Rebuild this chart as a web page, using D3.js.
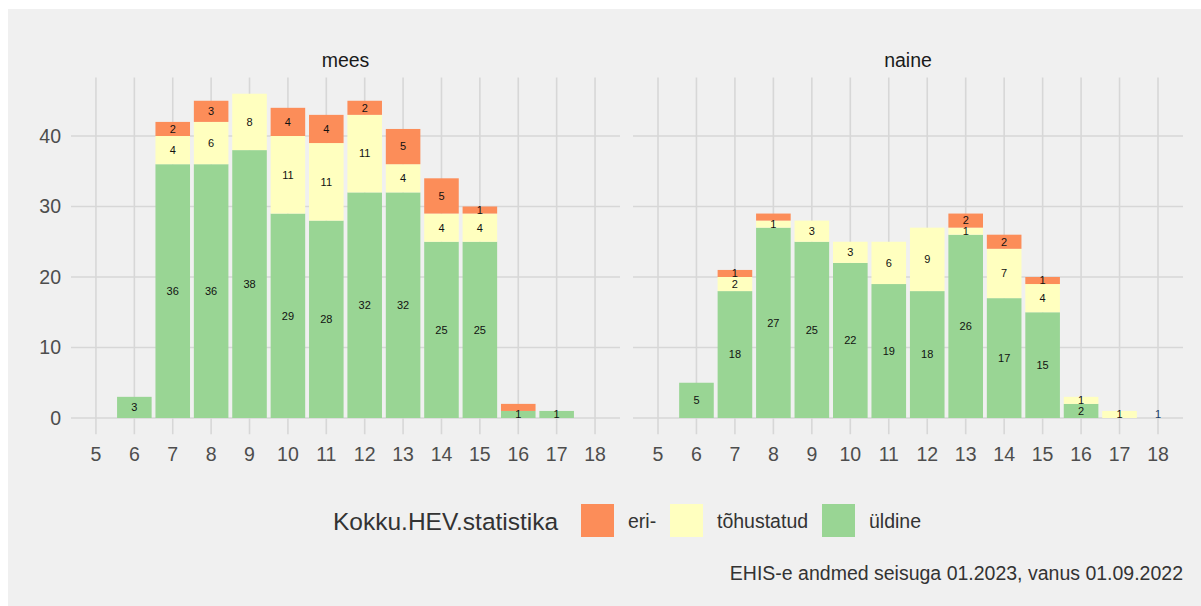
<!DOCTYPE html>
<html>
<head>
<meta charset="utf-8">
<script src="https://cdn.jsdelivr.net/npm/d3@7"></script>
<style>
  body { margin: 0; background: #fff; }
  svg { display: block; font-family: 'Liberation Sans', Arial, sans-serif; }
</style>
</head>
<body>
<svg id="chart" width="1201" height="606"></svg>
<script>
// ages on the x axis
const xTicks = [5, 6, 7, 8, 9, 10, 11, 12, 13, 14, 15, 16, 17, 18];
const yTicks = [0, 10, 20, 30, 40];
const barAges = [6, 7, 8, 9, 10, 11, 12, 13, 14, 15, 16, 17, 18];
const panels = ['mees', 'naine'];
const categories = ['üldine', 'tõhustatud', 'eri-'];
const legendOrder = ['eri-', 'tõhustatud', 'üldine'];

// values per age (6..18), one array per panel and category
const meesUldine = [3, 36, 36, 38, 29, 28, 32, 32, 25, 25, 1, 1, 0];
const meesTohustatud = [0, 4, 6, 8, 11, 11, 11, 4, 4, 4, 0, 0, 0];
const meesEri = [0, 2, 3, 0, 4, 4, 2, 5, 5, 1, 1, 0, 0];
const naineUldine = [5, 18, 27, 25, 22, 19, 18, 26, 17, 15, 2, 0, 0];
const naineTohustatud = [0, 2, 1, 3, 3, 6, 9, 1, 7, 4, 1, 1, 0];
const naineEri = [0, 1, 1, 0, 0, 0, 0, 2, 2, 1, 0, 0, 0];
// unclassified entry, drawn without a fill
const naineNA = [0, 0, 0, 0, 0, 0, 0, 0, 0, 0, 0, 0, 1];
const meesNA = [0, 0, 0, 0, 0, 0, 0, 0, 0, 0, 0, 0, 0];

const colors = {
  'eri-': '#FC8D59',
  'tõhustatud': '#FFFFBF',
  'üldine': '#99D594',
  'NA': 'none',
};

const series = {
  mees: { 'NA': meesNA, 'üldine': meesUldine, 'tõhustatud': meesTohustatud, 'eri-': meesEri },
  naine: { 'NA': naineNA, 'üldine': naineUldine, 'tõhustatud': naineTohustatud, 'eri-': naineEri },
};

const svg = d3.select('#chart');
const panelBox = {
  mees: { left: 71, right: 620 },
  naine: { left: 633, right: 1183 },
};
const panelTop = 77.5;
const panelBottom = 434.2;
const smallText = 19.5;

svg.append('rect')
  .attr('x', 8).attr('y', 9)
  .attr('width', 1193).attr('height', 597)
  .attr('fill', '#F0F0F0');

const yScale = d3.scaleLinear().domain([-2.3, 48.3]).range([panelBottom, panelTop]);

function stackFor(panel) {
  const out = [];
  barAges.forEach((age, i) => {
    let base = 0;
    ['NA'].concat(categories).forEach(cat => {
      const v = series[panel][cat][i];
      if (v > 0) {
        out.push({ age, cat, v, y0: base, y1: base + v });
        base += v;
      }
    });
  });
  return out;
}

// like check_overlap: skip a label that would sit on top of one already placed
function dropOverlaps(segs) {
  const placed = [];
  return segs.filter(d => {
    const y = yScale((d.y0 + d.y1) / 2);
    const clash = placed.some(p => p.age === d.age && Math.abs(p.y - y) < 9);
    if (!clash) placed.push({ age: d.age, y });
    return !clash;
  });
}

panels.forEach(panel => {
  const box = panelBox[panel];
  const xScale = d3.scaleLinear().domain([4.35, 18.65]).range([box.left, box.right]);
  const g = svg.append('g').attr('class', 'panel');

  // grid
  g.selectAll('.hgrid').data(yTicks).enter().append('line')
    .attr('x1', box.left).attr('x2', box.right)
    .attr('y1', d => yScale(d)).attr('y2', d => yScale(d))
    .attr('stroke', '#D7D7D7').attr('stroke-width', 1.6);
  g.selectAll('.vgrid').data(xTicks).enter().append('line')
    .attr('x1', d => xScale(d)).attr('x2', d => xScale(d))
    .attr('y1', panelTop).attr('y2', panelBottom)
    .attr('stroke', '#D7D7D7').attr('stroke-width', 1.6);

  const segs = stackFor(panel);
  const bw = xScale(0.9) - xScale(0);

  g.selectAll('.bar').data(segs).enter().append('rect')
    .attr('x', d => xScale(d.age) - bw / 2)
    .attr('width', bw)
    .attr('y', d => yScale(d.y1))
    .attr('height', d => yScale(d.y0) - yScale(d.y1))
    .attr('fill', d => colors[d.cat]);

  g.selectAll('.label').data(dropOverlaps(segs)).enter().append('text')
    .attr('x', d => xScale(d.age))
    .attr('y', d => yScale((d.y0 + d.y1) / 2))
    .attr('dy', '0.35em')
    .attr('text-anchor', 'middle')
    .attr('font-size', 11)
    .attr('fill', d => (d.cat === 'NA' ? '#1B3F6B' : '#111'))
    .text(d => d.v);

  // x axis labels
  g.selectAll('.xlab').data(xTicks).enter().append('text')
    .attr('x', d => xScale(d))
    .attr('y', 454)
    .attr('dy', '0.35em')
    .attr('text-anchor', 'middle')
    .attr('font-size', smallText)
    .attr('fill', '#4D4D4D')
    .text(d => d);

  // strip
  g.append('text')
    .attr('x', (box.left + box.right) / 2)
    .attr('y', 60)
    .attr('dy', '0.35em')
    .attr('text-anchor', 'middle')
    .attr('font-size', smallText)
    .attr('fill', '#1A1A1A')
    .text(panel);
});

// y axis labels
svg.selectAll('.ylab').data(yTicks).enter().append('text')
  .attr('x', 61)
  .attr('y', d => yScale(d))
  .attr('dy', '0.35em')
  .attr('text-anchor', 'end')
  .attr('font-size', smallText)
  .attr('fill', '#4D4D4D')
  .text(d => d);

// legend
const legend = svg.append('g');
legend.append('text')
  .attr('x', 333).attr('y', 521).attr('dy', '0.35em')
  .attr('font-size', 24.5).attr('fill', '#333')
  .text('Kokku.HEV.statistika');
const keyX = [581, 670, 822];
legendOrder.forEach((cat, i) => {
  legend.append('rect')
    .attr('x', keyX[i]).attr('y', 504)
    .attr('width', 33).attr('height', 33)
    .attr('fill', colors[cat]);
  legend.append('text')
    .attr('x', keyX[i] + 47).attr('y', 521).attr('dy', '0.35em')
    .attr('font-size', smallText).attr('fill', '#333')
    .text(cat);
});

// caption
svg.append('text')
  .attr('x', 1183).attr('y', 573).attr('dy', '0.35em')
  .attr('text-anchor', 'end')
  .attr('font-size', smallText).attr('fill', '#333')
  .text('EHIS-e andmed seisuga 01.2023, vanus 01.09.2022');
</script>
</body>
</html>
